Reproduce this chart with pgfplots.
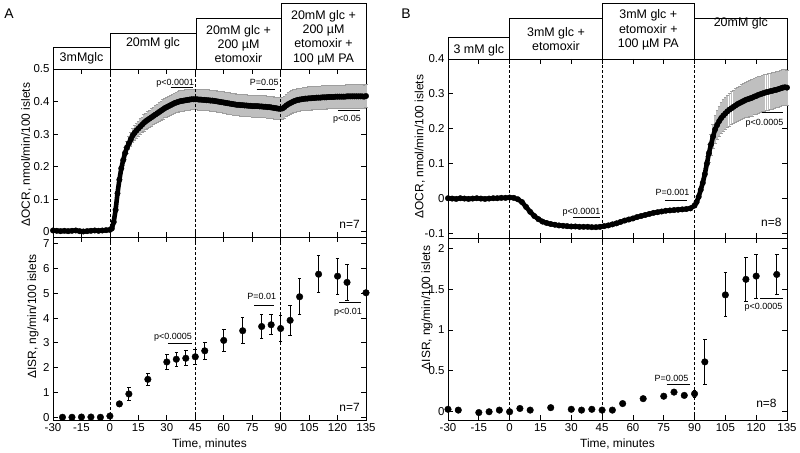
\documentclass[border=0pt]{standalone}
\usepackage{fontspec}
\setmainfont{Liberation Sans}
\usepackage{pgfplots}
\pgfplotsset{compat=1.18}
\usepackage{pgfplotstable}

\pgfplotstableread{
t v e
-30 0.004 0.004
-28 0.003 0.004
-26 0.002 0.004
-24 0.003 0.004
-22 0.002 0.004
-20 0.003 0.004
-18 0.004 0.004
-16 0.002 0.004
-14 0.001 0.004
-12 0.002 0.004
-10 0.003 0.004
-8 0.004 0.004
-6 0.003 0.004
-4 0.004 0.004
-2 0.005 0.004
0 0.006 0.005
1 0.010 0.006
2 0.030 0.008
3 0.067 0.010
4 0.118 0.012
5 0.160 0.014
6 0.195 0.016
7 0.220 0.017
8 0.242 0.018
9 0.259 0.019
10 0.272 0.020
11 0.284 0.021
12 0.296 0.022
13 0.304 0.022
14 0.311 0.023
15 0.317 0.023
16 0.323 0.024
17 0.329 0.024
18 0.335 0.025
19 0.340 0.025
20 0.344 0.026
21 0.348 0.026
22 0.352 0.027
23 0.356 0.027
24 0.360 0.028
25 0.364 0.028
26 0.368 0.029
27 0.372 0.029
28 0.376 0.030
29 0.380 0.030
30 0.383 0.030
31 0.386 0.030
32 0.389 0.031
33 0.392 0.031
34 0.395 0.031
35 0.397 0.031
36 0.399 0.032
37 0.401 0.032
38 0.402 0.032
39 0.403 0.032
40 0.404 0.032
41 0.405 0.032
42 0.406 0.032
43 0.407 0.032
44 0.407 0.032
45 0.407 0.032
46 0.407 0.032
47 0.406 0.032
48 0.406 0.032
49 0.405 0.032
50 0.405 0.032
51 0.404 0.032
52 0.404 0.032
53 0.403 0.032
54 0.403 0.032
55 0.402 0.032
56 0.401 0.032
57 0.400 0.032
58 0.399 0.032
59 0.398 0.032
60 0.397 0.033
61 0.396 0.033
62 0.395 0.033
63 0.394 0.033
64 0.393 0.033
65 0.392 0.033
66 0.391 0.033
67 0.390 0.033
68 0.390 0.033
69 0.389 0.033
70 0.389 0.033
71 0.388 0.033
72 0.388 0.033
73 0.387 0.033
74 0.387 0.033
75 0.386 0.033
76 0.386 0.033
77 0.386 0.034
78 0.386 0.034
79 0.385 0.034
80 0.385 0.034
81 0.384 0.034
82 0.384 0.034
83 0.383 0.034
84 0.383 0.034
85 0.382 0.034
86 0.381 0.034
87 0.380 0.034
88 0.379 0.034
89 0.378 0.034
90 0.378 0.034
91 0.379 0.034
92 0.383 0.034
93 0.388 0.034
94 0.392 0.035
95 0.395 0.035
96 0.398 0.035
97 0.401 0.035
98 0.403 0.035
99 0.405 0.035
100 0.406 0.035
101 0.407 0.035
102 0.408 0.035
103 0.409 0.035
104 0.409 0.036
105 0.410 0.036
106 0.410 0.036
107 0.411 0.036
108 0.411 0.036
109 0.412 0.036
110 0.412 0.036
111 0.412 0.036
112 0.413 0.036
113 0.413 0.036
114 0.413 0.036
115 0.414 0.036
116 0.414 0.036
117 0.414 0.036
118 0.414 0.036
119 0.415 0.036
120 0.415 0.036
121 0.415 0.036
122 0.415 0.036
123 0.415 0.036
124 0.415 0.036
125 0.416 0.036
126 0.416 0.036
127 0.416 0.036
128 0.416 0.036
129 0.416 0.036
130 0.416 0.036
131 0.416 0.036
132 0.416 0.036
133 0.416 0.036
134 0.415 0.036
135 0.417 0.036
}\ocrA

\pgfplotstableread{
t v e
-30 0.001 0.004
-28 0.000 0.004
-26 -0.001 0.004
-24 0.001 0.004
-22 0.000 0.004
-20 -0.001 0.004
-18 0.000 0.004
-16 0.001 0.004
-14 0.000 0.004
-12 -0.001 0.004
-10 0.000 0.004
-8 0.001 0.004
-6 0.001 0.004
-4 0.002 0.004
-2 0.002 0.004
0 0.003 0.004
2 0.002 0.004
4 -0.002 0.004
6 -0.010 0.004
8 -0.024 0.004
10 -0.038 0.004
12 -0.050 0.004
14 -0.059 0.004
16 -0.066 0.004
18 -0.070 0.004
20 -0.073 0.004
22 -0.075 0.004
24 -0.077 0.004
26 -0.078 0.004
28 -0.079 0.004
30 -0.080 0.004
32 -0.080 0.004
34 -0.081 0.004
36 -0.081 0.004
38 -0.081 0.004
40 -0.082 0.004
42 -0.082 0.004
44 -0.081 0.004
46 -0.079 0.004
48 -0.077 0.004
50 -0.074 0.004
52 -0.071 0.004
54 -0.067 0.004
56 -0.063 0.004
58 -0.060 0.004
60 -0.057 0.004
62 -0.053 0.004
64 -0.050 0.004
66 -0.047 0.004
68 -0.044 0.004
70 -0.041 0.004
72 -0.039 0.004
74 -0.037 0.004
76 -0.035 0.004
78 -0.034 0.004
80 -0.033 0.004
82 -0.032 0.004
84 -0.031 0.004
86 -0.030 0.004
88 -0.028 0.005
90 -0.020 0.005
91 -0.010 0.006
92 0.005 0.008
93 0.025 0.010
94 0.045 0.013
95 0.070 0.016
96 0.100 0.020
97 0.130 0.025
98 0.155 0.030
99 0.178 0.035
100 0.198 0.040
101 0.211 0.042
102 0.222 0.043
103 0.231 0.044
104 0.238 0.045
105 0.244 0.046
106 0.250 0.046
107 0.255 0.047
108 0.259 0.047
109 0.263 0.048
110 0.267 0.048
111 0.271 0.049
112 0.274 0.049
113 0.277 0.050
114 0.280 0.050
115 0.283 0.051
116 0.285 0.051
117 0.287 0.052
118 0.289 0.052
119 0.292 0.052
120 0.294 0.052
121 0.297 0.052
122 0.299 0.052
123 0.301 0.052
124 0.303 0.052
125 0.305 0.052
126 0.306 0.052
127 0.308 0.052
128 0.309 0.052
129 0.311 0.052
130 0.312 0.052
131 0.314 0.052
132 0.316 0.052
133 0.318 0.052
134 0.319 0.051
135 0.318 0.050
}\ocrB

\pgfplotstableread{
t v e
-25 0.00 0
-20 0.00 0
-15 0.01 0
-10 0.01 0
-5 0.00 0
0 0.05 0.05
5 0.54 0.10
10 0.94 0.25
20 1.53 0.25
30 2.23 0.32
35 2.34 0.28
40 2.38 0.30
45 2.44 0.30
50 2.68 0.33
60 3.10 0.45
70 3.49 0.52
80 3.66 0.47
85 3.73 0.40
90 3.58 0.52
95 3.91 0.60
100 4.86 0.72
110 5.77 0.75
120 5.69 0.72
125 5.44 0.72
135 5.02 0
}\isrA

\pgfplotstableread{
t v e
-30 0.03 0
-25 0.02 0
-15 -0.01 0
-10 0.00 0
-5 0.02 0
0 0.00 0
5 0.04 0
10 0.02 0
20 0.05 0
30 0.03 0
35 0.02 0
40 0.03 0
45 0.02 0
50 0.02 0
55 0.10 0
65 0.16 0
75 0.19 0
80 0.24 0
85 0.20 0.03
90 0.22 0.04
95 0.61 0.27
105 1.43 0.27
115 1.62 0.27
120 1.66 0.27
130 1.68 0.25
}\isrB

\pgfplotsset{
  panel/.style={
    scale only axis, anchor=south west,
    xmin=-30, xmax=135, xtick={-30,-15,...,135},
    tick align=inside, major tick length=5bp,
    axis line style={line width=0.9bp, black},
    tick style={line width=0.8bp, black},
    tick label style={font=\fontsize{11.5}{13}\selectfont},
    label style={font=\fontsize{12}{14}\selectfont},
    /pgf/number format/assume math mode=true,
    clip=false,
  },
  greybars/.style={only marks, mark=none, forget plot,
    error bars/.cd, y dir=both, y explicit,
    error bar style={line width=1.9bp, draw=black!25},
    error mark options={rotate=90, draw=black!38, mark size=1.6bp, line width=0.7bp}},
  blackbars/.style={only marks, mark=*, mark size=3.3bp, black,
    error bars/.cd, y dir=both, y explicit,
    error bar style={line width=0.9bp, black},
    error mark options={rotate=90, black, mark size=1.8bp, line width=0.9bp}},
}
\tikzset{
  vdash/.style={line width=0.8bp, dash pattern=on 3bp off 2bp, black},
  pfont/.style={font=\fontsize{9}{10}\selectfont, inner sep=0pt},
  nfont/.style={font=\fontsize{12}{13}\selectfont, inner sep=0pt},
  boxtext/.style={font=\fontsize{12.5}{14.5}\selectfont, align=center, inner sep=0pt},
}

\begin{document}
\begin{tikzpicture}
\useasboundingbox (0,0) rectangle (800bp,453bp);

% ---------------- Panel A, OCR ----------------
\begin{axis}[panel, at={(53bp,216bp)}, width=313bp, height=168bp,
  ymin=-0.016, ymax=0.5, ytick={0,0.1,0.2,0.3,0.4,0.5},
  xticklabels={},
  ylabel={ΔOCR, nmol/min/100 islets},
  ylabel style={at={(axis description cs:-0.085,0.49)}, anchor=center}]
  \addplot[greybars] table[x=t, y=v, y error=e] {\ocrA};
  \addplot[black, line width=4.6bp, line join=round, mark=*, mark size=2.8bp, mark options={line width=0.3bp}] table[x=t, y=v] {\ocrA};
  \draw[vdash] (axis cs:0,-0.016) -- (axis cs:0,0.5);
  \draw[vdash] (axis cs:45,-0.016) -- (axis cs:45,0.5);
  \draw[vdash] (axis cs:90,-0.016) -- (axis cs:90,0.5);
  \draw[line width=1bp] (axis cs:32,0.442) -- (axis cs:44,0.442);
  \node[pfont, anchor=base east] at (axis cs:44.5,0.449) {p<0.0001};
  \draw[line width=1bp] (axis cs:77.4,0.436) -- (axis cs:87,0.436);
  \node[pfont, anchor=base] at (axis cs:81.4,0.449) {P=0.05};
  \draw[line width=1bp] (axis cs:120.2,0.371) -- (axis cs:131.8,0.371);
  \node[pfont, anchor=north] at (axis cs:125,0.360) {p<0.05};
  \node[nfont, anchor=base east] at (axis cs:131.8,0.011) {n=7};
\end{axis}

% ---------------- Panel A, ISR ----------------
\begin{axis}[panel, at={(53bp,33bp)}, width=313bp, height=183bp,
  ymin=-0.11, ymax=7.27, ytick={0,1,...,7},
  xlabel={Time, minutes},
  xlabel style={at={(axis description cs:0.5,0)}, anchor=center, yshift=-24bp},
  ylabel={ΔISR, ng/min/100 islets},
  ylabel style={at={(axis description cs:-0.064,0.565)}, anchor=center}]
  \addplot[blackbars] table[x=t, y=v, y error=e] {\isrA};
  \draw[vdash] (axis cs:0,-0.11) -- (axis cs:0,7.27);
  \draw[vdash] (axis cs:45,-0.11) -- (axis cs:45,7.27);
  \draw[vdash] (axis cs:90,-0.11) -- (axis cs:90,7.27);
  \draw[line width=1bp] (axis cs:30.6,2.98) -- (axis cs:43.1,2.98);
  \node[pfont, anchor=base east] at (axis cs:43.3,3.14) {p<0.0005};
  \draw[line width=1bp] (axis cs:76,4.5) -- (axis cs:86.5,4.5);
  \node[pfont, anchor=base] at (axis cs:80,4.73) {P=0.01};
  \draw[line width=1bp] (axis cs:120.8,4.62) -- (axis cs:132.4,4.62);
  \node[pfont, anchor=north] at (axis cs:125.5,4.40) {p<0.01};
  \node[nfont, anchor=base east] at (axis cs:131.8,0.23) {n=7};
\end{axis}

% ---------------- Panel B, OCR ----------------
\begin{axis}[panel, at={(448bp,215bp)}, width=339bp, height=179bp,
  ymin=-0.113, ymax=0.4, ytick={-0.1,0,0.1,0.2,0.3,0.4},
  xticklabels={},
  ylabel={ΔOCR, nmol/min/100 islets},
  ylabel style={at={(axis description cs:-0.083,0.51)}, anchor=center}]
  \addplot[greybars] table[x=t, y=v, y error=e] {\ocrB};
  \addplot[black, line width=4.6bp, line join=round, mark=*, mark size=2.8bp, mark options={line width=0.3bp}] table[x=t, y=v] {\ocrB};
  \draw[vdash] (axis cs:0,-0.113) -- (axis cs:0,0.4);
  \draw[vdash] (axis cs:45,-0.113) -- (axis cs:45,0.4);
  \draw[vdash] (axis cs:90,-0.113) -- (axis cs:90,0.4);
  \draw[line width=1bp] (axis cs:30.8,-0.053) -- (axis cs:44,-0.053);
  \node[pfont, anchor=base east] at (axis cs:44.2,-0.046) {p<0.0001};
  \draw[line width=1bp] (axis cs:75.6,-0.005) -- (axis cs:86.3,-0.005);
  \node[pfont, anchor=base] at (axis cs:79.3,0.009) {P=0.001};
  \draw[line width=1bp] (axis cs:122.7,0.246) -- (axis cs:133,0.246);
  \node[pfont, anchor=north east] at (axis cs:133.3,0.228) {p<0.0005};
  \node[nfont, anchor=base east] at (axis cs:132.4,-0.081) {n=8};
\end{axis}

% ---------------- Panel B, ISR ----------------
\begin{axis}[panel, at={(448bp,33bp)}, width=339bp, height=182bp,
  ymin=-0.101, ymax=2.126, ytick={0,0.5,1,1.5,2},
  xlabel={Time, minutes},
  xlabel style={at={(axis description cs:0.5,0)}, anchor=center, yshift=-24bp},
  ylabel={ΔISR, ng/min/100 islets},
  ylabel style={at={(axis description cs:-0.062,0.615)}, anchor=center}]
  \addplot[blackbars] table[x=t, y=v, y error=e] {\isrB};
  \draw[vdash] (axis cs:0,-0.101) -- (axis cs:0,2.126);
  \draw[vdash] (axis cs:45,-0.101) -- (axis cs:45,2.126);
  \draw[vdash] (axis cs:90,-0.101) -- (axis cs:90,2.126);
  \draw[line width=1bp] (axis cs:76.4,0.338) -- (axis cs:87.8,0.338);
  \node[pfont, anchor=base] at (axis cs:78.8,0.374) {P=0.005};
  \draw[line width=1bp] (axis cs:121.9,1.39) -- (axis cs:133,1.39);
  \node[pfont, anchor=north east] at (axis cs:132.8,1.33) {p<0.0005};
  \node[nfont, anchor=base east] at (axis cs:130,0.054) {n=8};
\end{axis}

% ---------------- condition boxes ----------------
\begin{scope}[line width=0.9bp]
  \draw (53bp,384bp) rectangle (110bp,405.3bp);
  \draw (110bp,384bp) rectangle (196bp,420bp);
  \draw (196bp,384bp) rectangle (281bp,435bp);
  \draw (281bp,384bp) rectangle (366bp,449.7bp);
  \node[boxtext] at (81.5bp,394.7bp) {3mMglc};
  \node[boxtext] at (153bp,409.7bp) {20mM glc};
  \node[boxtext] at (238.5bp,409bp) {20mM glc +\\200 µM\\etomoxir};
  \node[boxtext] at (323.5bp,415.5bp) {20mM glc +\\200 µM\\etomoxir +\\100 µM PA};

  \draw (448bp,394bp) rectangle (509.6bp,415.3bp);
  \draw (509.6bp,394bp) rectangle (602.1bp,434.7bp);
  \draw (602.1bp,394bp) rectangle (694.5bp,449.7bp);
  \draw (694.5bp,394bp) rectangle (787bp,434.7bp);
  \node[boxtext] at (478.8bp,403bp) {3 mM glc};
  \node[boxtext] at (556bp,414bp) {3mM glc +\\etomoxir};
  \node[boxtext] at (648.3bp,423bp) {3mM glc +\\etomoxir +\\100 µM PA};
  \node[boxtext] at (740.8bp,430bp) {20mM glc};
\end{scope}

\node[font=\fontsize{14}{16}\selectfont] at (9bp,439bp) {A};
\node[font=\fontsize{14}{16}\selectfont] at (406bp,439bp) {B};
\end{tikzpicture}
\end{document}
